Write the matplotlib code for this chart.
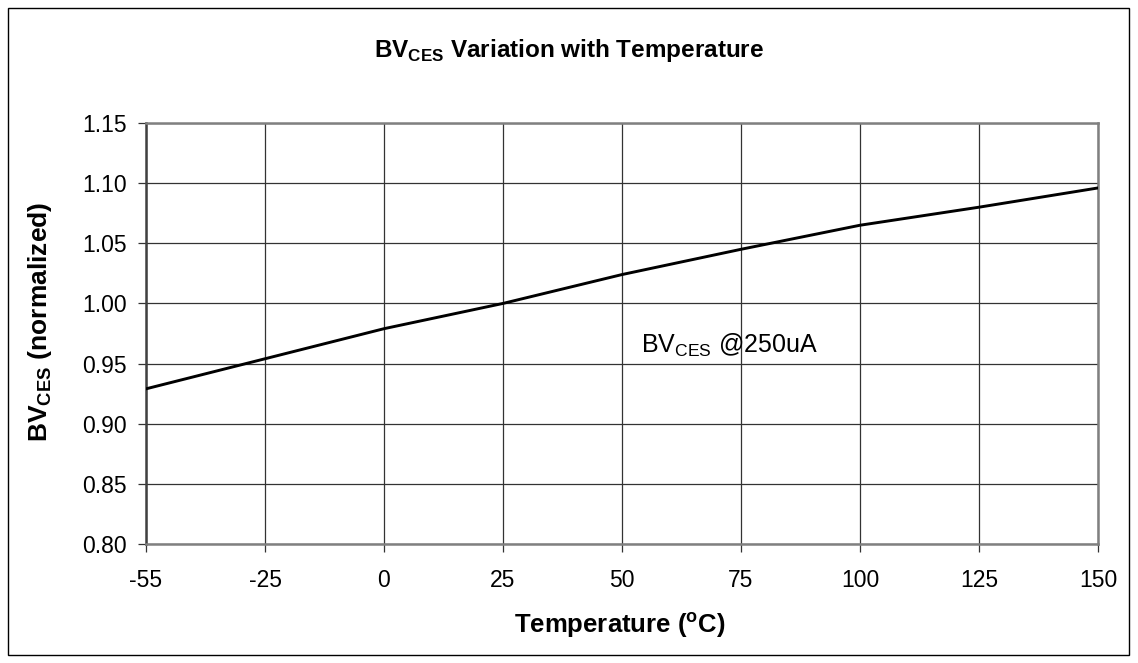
import matplotlib
matplotlib.use('Agg')
import matplotlib.pyplot as plt
from matplotlib.patches import Rectangle

plt.rcParams['font.family'] = ['Liberation Sans', 'DejaVu Sans']
plt.rcParams['mathtext.fontset'] = 'custom'
plt.rcParams['mathtext.rm'] = 'Liberation Sans'
plt.rcParams['mathtext.bf'] = 'Liberation Sans:bold'

# data
temps = ['-55', '-25', '0', '25', '50', '75', '100', '125', '150']
bv_norm = [0.929, 0.954, 0.979, 1.000, 1.024, 1.045, 1.065, 1.080, 1.096]
y_ticks = [0.80, 0.85, 0.90, 0.95, 1.00, 1.05, 1.10, 1.15]

fig = plt.figure(figsize=(11.38, 6.63), dpi=100)
ax = fig.add_axes([146 / 1138, 1 - 544 / 663, (1098 - 146) / 1138, (544 - 123) / 663])

x = list(range(len(temps)))
ax.plot(x, bv_norm, color='black', lw=2.1, zorder=3)

ax.set_xlim(0, len(temps) - 1)
ax.set_ylim(y_ticks[0], y_ticks[-1])
ax.set_xticks(x)
ax.set_xticklabels(temps)
ax.set_yticks(y_ticks)
ax.set_yticklabels([f'{v:.2f}' for v in y_ticks])

ax.grid(True, color='#333333', lw=0.9)
ax.set_axisbelow(True)
for s in ax.spines.values():
    s.set_color('#808080')
    s.set_linewidth(1.8)
ax.spines['left'].set_color('#404040')
ax.tick_params(axis='both', direction='out', length=6, width=0.9, color='#333333',
               labelsize=16.5)
ax.tick_params(axis='y', pad=8)
ax.tick_params(axis='x', pad=12)

ax.text(4.16, 0.959, r'BV$_\mathrm{CES}$ @250uA', fontsize=18, ha='left', va='baseline')

fig.text(0.5, 1 - 57 / 663, r'BV$_\mathbf{CES}$ Variation with Temperature',
         fontsize=17.5, fontweight='bold', ha='center', va='baseline')
fig.text(620 / 1138, 1 - 633 / 663, r'Temperature ($^\mathbf{o}$C)',
         fontsize=18.5, fontweight='bold', ha='center', va='baseline')
fig.text(40 / 1138, 1 - 322 / 663, r'BV$_\mathbf{CES}$ (normalized)',
         fontsize=19, fontweight='bold', ha='center', va='center', rotation=90)

# outer chart border
fig.patches.append(Rectangle((8 / 1138, 8 / 663), 1121 / 1138, 647 / 663,
                             transform=fig.transFigure, fill=False,
                             edgecolor='black', lw=1.0))

fig.savefig('out.png', dpi=100)
